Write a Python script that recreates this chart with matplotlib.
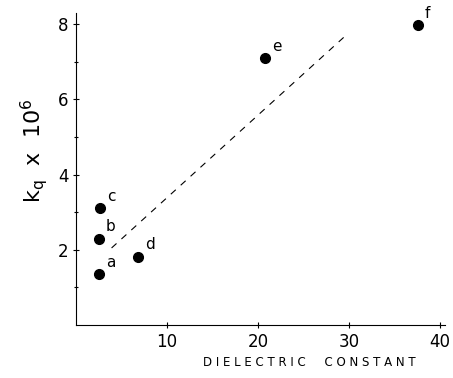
import matplotlib
matplotlib.use('Agg')
import matplotlib.pyplot as plt

# solvents a-f: dielectric constant vs quenching rate constant
labels = ['a', 'b', 'c', 'd', 'e', 'f']
dielectric = [2.5, 2.5, 2.6, 6.8, 20.8, 37.6]
kq = [1.36, 2.3, 3.1, 1.82, 7.1, 7.97]

# dashed trend line end points
line_x = [3.9, 29.8]
line_y = [2.05, 7.73]

xticks = [10, 20, 30, 40]
yticks = [2, 4, 6, 8]

fig = plt.figure(figsize=(4.53, 3.78), dpi=100)
ax = fig.add_axes([0.168, 0.14, 0.815, 0.826])

ax.plot(dielectric, kq, 'o', color='black', markersize=7)
ax.plot(line_x, line_y, color='black', lw=0.8, dashes=(6, 6))

for lab, x, y in zip(labels, dielectric, kq):
    ax.annotate(lab, (x, y), xytext=(5, 3), textcoords='offset points',
                fontsize=11, ha='left', va='bottom')

ax.set_xlim(0, 40.6)
ax.set_ylim(0, 8.3)
ax.set_xticks(xticks)
ax.set_yticks(yticks)
ax.set_yticks([1, 3, 5, 7], minor=True)
ax.tick_params(direction='inout', length=4, width=0.8, labelsize=12)
ax.tick_params(which='minor', direction='inout', length=3, width=0.8)
ax.spines['top'].set_visible(False)
ax.spines['right'].set_visible(False)

fig.text(0.075, 0.60, r'$\mathregular{k_q}$  x  $\mathregular{10^6}$', rotation=90,
         fontsize=16, ha='center', va='center')
fig.text(0.683, 0.042, 'D I E L E C T R I C     C O N S T A N T', fontsize=8.5,
         ha='center', va='center')

fig.savefig('out.png', dpi=100)
